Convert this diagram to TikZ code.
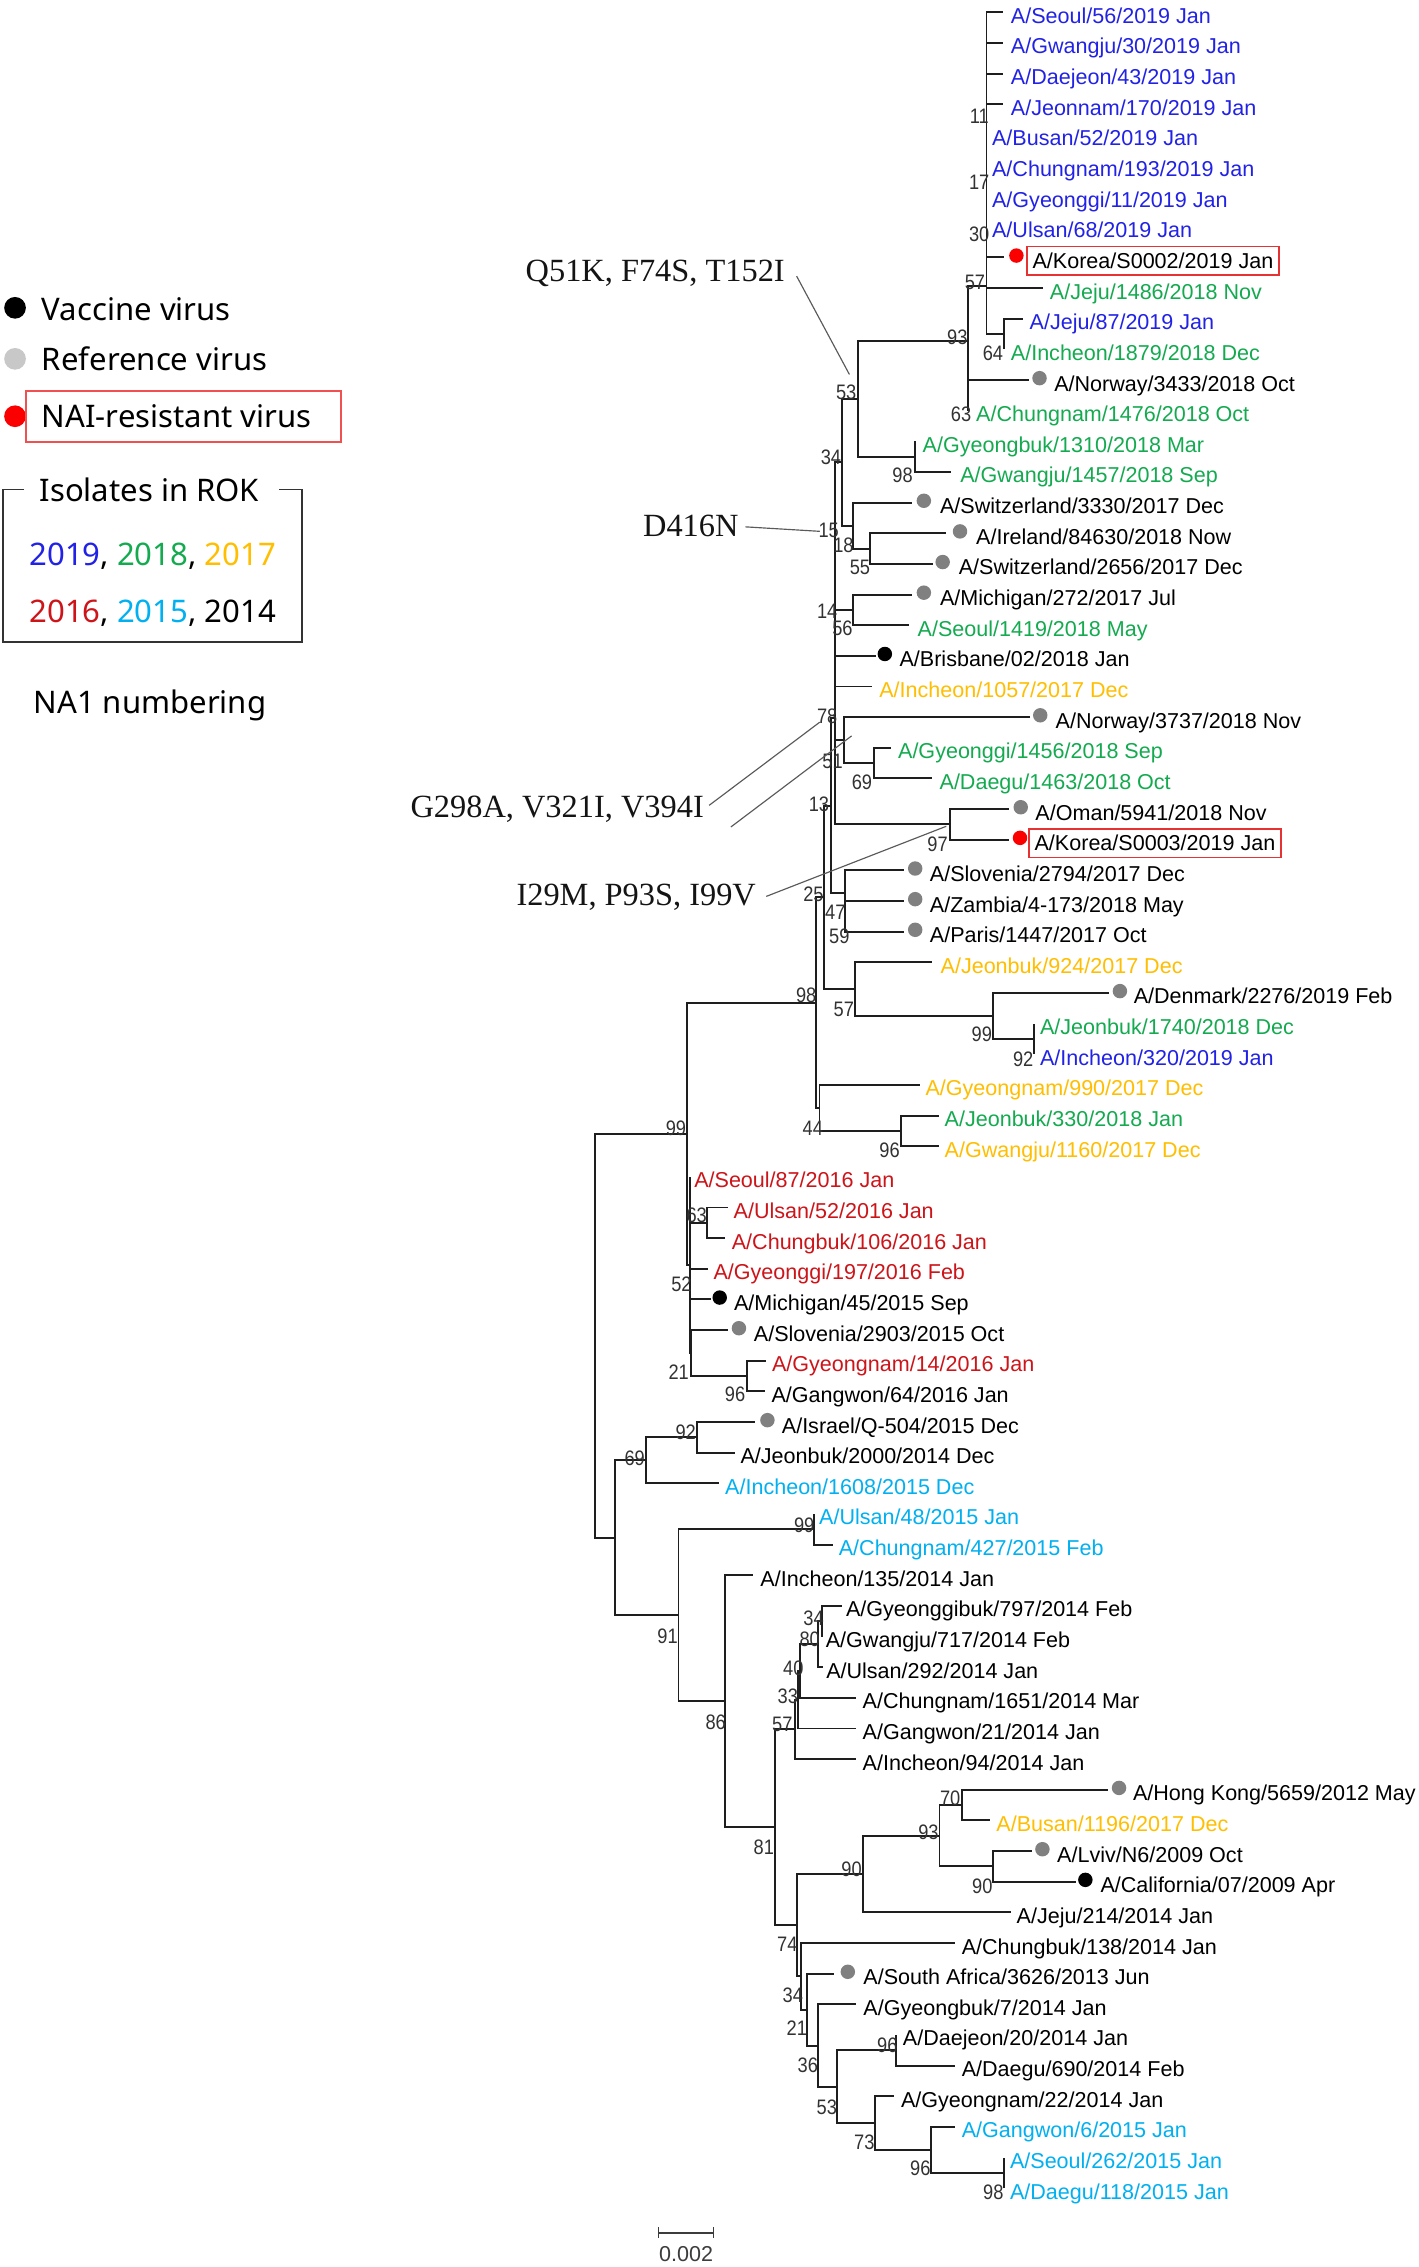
\documentclass[tikz,border=0pt]{standalone}
\usepackage{fontspec}
\setmainfont{Liberation Sans}
\newfontfamily\lsans{Liberation Sans}
\newfontfamily\bsans[FakeStretch=0.87]{Liberation Sans}
\newfontfamily\lserif{Liberation Serif}
\newfontfamily\nsans{Noto Sans}
\usetikzlibrary{fit}
\definecolor{c19}{RGB}{34,34,230}
\definecolor{c18}{RGB}{20,170,80}
\definecolor{c17}{RGB}{255,190,0}
\definecolor{c16}{RGB}{205,20,25}
\definecolor{c15}{RGB}{0,176,240}
\definecolor{treec}{RGB}{30,30,30}
\definecolor{bsc}{RGB}{50,50,50}
\definecolor{dotg}{RGB}{128,128,128}
\definecolor{dotr}{RGB}{250,0,0}
\definecolor{boxr}{RGB}{230,50,50}
\definecolor{lboxr}{RGB}{240,80,80}
\definecolor{lgray}{RGB}{200,200,200}
\definecolor{anntext}{RGB}{20,20,20}
\definecolor{annline}{RGB}{90,90,90}
\definecolor{sbc}{RGB}{60,60,60}
\newcommand\mkleaf[6]{%
  \coordinate (L#1) at (#3, {8.5+21.197*(#1-1)});
  \draw[tree] (#2) |- (L#1);
  \node[lf, text=#5] (t#1) at (#4, {16.1+21.197*(#1-1)}) {#6};
}
\newcommand\mkdot[3]{%
  \node[#2] (d#1) at (#3, {7.2+21.197*(#1-1)}) {};
}
\begin{document}
\begin{tikzpicture}[x=1pt,y=-1pt,
  tree/.style={draw=treec, line width=1.35pt},
  lf/.style={anchor=base west, inner sep=0pt, font=\lsans\fontsize{14.9}{17}\selectfont},
  bs/.style={inner sep=0pt, font=\bsans\fontsize{14.5}{16}\selectfont, text=bsc},
  gdot/.style={circle, fill=dotg, inner sep=0pt, minimum size=10pt},
  kdot/.style={circle, fill=black, inner sep=0pt, minimum size=10pt},
  rdot/.style={circle, fill=dotr, inner sep=0pt, minimum size=10pt},
  rbox/.style={draw=boxr, line width=1.1pt, inner xsep=3.8pt, inner ysep=4.2pt},
  ann/.style={anchor=base east, inner sep=0pt, font=\lserif\fontsize{22.4}{26}\selectfont, text=anntext},
  annl/.style={draw=annline, line width=0.8pt},
  lg/.style={anchor=base west, inner sep=0pt, font=\nsans\fontsize{21.5}{25}\selectfont},
]
\fill[white] (0,0) rectangle (981,1568);
\useasboundingbox (0,0) rectangle (981,1568);

% ---------- internal nodes ----------
\coordinate (n11) at (682.3, 82.7);
\coordinate (n17) at (682.3, 130.4);
\coordinate (n30) at (682.3, 164.85);
\coordinate (n64) at (694.4, 231.1);
\coordinate (n57) at (682.3, 198.0);
\coordinate (n63) at (669.7, 273.5);
\coordinate (n93) at (669.7, 235.75);
\coordinate (n98a) at (632.6, 315.9);
\coordinate (n53) at (593.7, 275.8);
\coordinate (n55) at (601.6, 379.45);
\coordinate (n18) at (589.9, 363.6);
\coordinate (n34) at (582.7, 319.7);
\coordinate (n56) at (589.9, 421.8);
\coordinate (n15) at (577.5, 370.75);
\coordinate (n14) at (577.5, 422.8);
\coordinate (n69) at (604.6, 527.8);
\coordinate (n51) at (583.6, 511.9);
\coordinate (n97) at (656.9, 570.2);
\coordinate (n78) at (577.5, 496.5);
\coordinate (n59) at (584.3, 633.8);
\coordinate (n47) at (584.3, 617.9);
\coordinate (n13) at (575, 557.2);
\coordinate (n92a) at (715.4, 718.6);
\coordinate (n99a) at (686.7, 702.7);
\coordinate (n57b) at (591.2, 684.15);
\coordinate (n25) at (570.2, 620.7);
\coordinate (n96a) at (622.9, 782.2);
\coordinate (n44) at (566.8, 766.3);
\coordinate (n98b) at (564.5, 693.5);
\coordinate (n63b) at (489.1, 845.8);
\coordinate (n96b) at (516.8, 951.7);
\coordinate (n21a) at (477.7, 935.8);
\coordinate (n52) at (477, 874.9);
\coordinate (n99b) at (475, 784.2);
\coordinate (n92b) at (481.9, 994.1);
\coordinate (n69b) at (446.6, 1010.0);
\coordinate (n99c) at (562.7, 1057.7);
\coordinate (n34b) at (568.7, 1121.3);
\coordinate (n80) at (565.7, 1137.2);
\coordinate (n40) at (553.6, 1155.75);
\coordinate (n33) at (552, 1175.6);
\coordinate (n57c) at (549.8, 1196.15);
\coordinate (n70) at (665.3, 1248.5);
\coordinate (n90a) at (687, 1290.9);
\coordinate (n93b) at (649.8, 1269.7);
\coordinate (n90b) at (596.6, 1296.2);
\coordinate (n98c) at (694.5, 1502.9);
\coordinate (n96c) at (644, 1487);
\coordinate (n73) at (605.4, 1468.45);
\coordinate (n96d) at (619.8, 1418.1);
\coordinate (n53b) at (578.8, 1443.3);
\coordinate (n36) at (565.8, 1414.8);
\coordinate (n21b) at (558.3, 1389.95);
\coordinate (n34c) at (553.9, 1366.9);
\coordinate (n74) at (551.5, 1331.55);
\coordinate (n81) at (535.9, 1263.85);
\coordinate (n86) at (501.4, 1176.7);
\coordinate (n91) at (469.3, 1117.2);
\coordinate (nC) at (425.1, 1063.6);
\coordinate (root) at (411.4, 923.9);

\foreach \p/\c in {n17/n11, n30/n17, n57/n30, n57/n64, n93/n57, n93/n63,
  n53/n93, n53/n98a, n34/n53, n34/n18, n18/n55, n15/n34, n15/n56, n14/n15,
  n78/n14, n78/n51, n78/n97, n51/n69, n13/n78, n13/n47, n47/n59, n25/n13,
  n25/n57b, n57b/n99a, n99a/n92a, n98b/n25, n98b/n44, n44/n96a, n99b/n98b,
  n99b/n52, n52/n63b, n52/n21a, n21a/n96b, root/n99b, root/nC, nC/n69b,
  n69b/n92b, nC/n91, n91/n99c, n91/n86, n86/n81, n81/n57c, n57c/n33, n33/n40,
  n40/n80, n80/n34b, n81/n74, n74/n90b, n90b/n93b, n93b/n70, n93b/n90a,
  n74/n34c, n34c/n21b, n21b/n36, n36/n53b, n53b/n96d, n53b/n73, n73/n96c,
  n96c/n98c}
  \draw[tree] (\p) |- (\c);

% ---------- leaves ----------
\mkleaf{1}{n11}{693.5}{699}{c19}{A/Seoul/56/2019 Jan}
\mkleaf{2}{n11}{693.5}{699}{c19}{A/Gwangju/30/2019 Jan}
\mkleaf{3}{n11}{693.5}{699}{c19}{A/Daejeon/43/2019 Jan}
\mkleaf{4}{n11}{693.5}{699}{c19}{A/Jeonnam/170/2019 Jan}
\mkleaf{5}{n11}{682.3}{686}{c19}{A/Busan/52/2019 Jan}
\mkleaf{6}{n11}{682.3}{686}{c19}{A/Chungnam/193/2019 Jan}
\mkleaf{7}{n11}{682.3}{686}{c19}{A/Gyeonggi/11/2019 Jan}
\mkleaf{8}{n11}{682.3}{686}{c19}{A/Ulsan/68/2019 Jan}
\mkleaf{9}{n17}{694.4}{714}{black}{A/Korea/S0002/2019 Jan}
\mkleaf{10}{n30}{721.4}{726}{c18}{A/Jeju/1486/2018 Nov}
\mkleaf{11}{n64}{707.7}{712}{c19}{A/Jeju/87/2019 Jan}
\mkleaf{12}{n64}{694.4}{699}{c18}{A/Incheon/1879/2018 Dec}
\mkleaf{13}{n63}{712}{729}{black}{A/Norway/3433/2018 Oct}
\mkleaf{14}{n63}{669.7}{675}{c18}{A/Chungnam/1476/2018 Oct}
\mkleaf{15}{n98a}{632.6}{638}{c18}{A/Gyeongbuk/1310/2018 Mar}
\mkleaf{16}{n98a}{658}{664}{c18}{A/Gwangju/1457/2018 Sep}
\mkleaf{17}{n18}{630.7}{650}{black}{A/Switzerland/3330/2017 Dec}
\mkleaf{18}{n55}{654.5}{675}{black}{A/Ireland/84630/2018 Now}
\mkleaf{19}{n55}{645}{663}{black}{A/Switzerland/2656/2017 Dec}
\mkleaf{20}{n56}{630.7}{650}{black}{A/Michigan/272/2017 Jul}
\mkleaf{21}{n56}{628.8}{634.5}{c18}{A/Seoul/1419/2018 May}
\mkleaf{22}{n14}{606}{622}{black}{A/Brisbane/02/2018 Jan}
\mkleaf{23}{n14}{603}{608}{c17}{A/Incheon/1057/2017 Dec}
\mkleaf{24}{n51}{712.7}{730}{black}{A/Norway/3737/2018 Nov}
\mkleaf{25}{n69}{616}{621}{c18}{A/Gyeonggi/1456/2018 Sep}
\mkleaf{26}{n69}{644.7}{649.7}{c18}{A/Daegu/1463/2018 Oct}
\mkleaf{27}{n97}{698}{716}{black}{A/Oman/5941/2018 Nov}
\mkleaf{28}{n97}{698}{715.4}{black}{A/Korea/S0003/2019 Jan}
\mkleaf{29}{n47}{625.6}{643}{black}{A/Slovenia/2794/2017 Dec}
\mkleaf{30}{n59}{625.6}{643}{black}{A/Zambia/4-173/2018 May}
\mkleaf{31}{n59}{625.6}{643}{black}{A/Paris/1447/2017 Oct}
\mkleaf{32}{n57b}{644.7}{650.4}{c17}{A/Jeonbuk/924/2017 Dec}
\mkleaf{33}{n99a}{767}{784}{black}{A/Denmark/2276/2019 Feb}
\mkleaf{34}{n92a}{715.4}{719.2}{c18}{A/Jeonbuk/1740/2018 Dec}
\mkleaf{35}{n92a}{715.4}{719.2}{c19}{A/Incheon/320/2019 Jan}
\mkleaf{36}{n44}{636}{640}{c17}{A/Gyeongnam/990/2017 Dec}
\mkleaf{37}{n96a}{649.4}{653.2}{c18}{A/Jeonbuk/330/2018 Jan}
\mkleaf{38}{n96a}{649.4}{653.2}{c17}{A/Gwangju/1160/2017 Dec}
\mkleaf{39}{n52}{477}{480}{c16}{A/Seoul/87/2016 Jan}
\mkleaf{40}{n63b}{503.5}{507.3}{c16}{A/Ulsan/52/2016 Jan}
\mkleaf{41}{n63b}{501.6}{506}{c16}{A/Chungbuk/106/2016 Jan}
\mkleaf{42}{n52}{489.5}{493.3}{c16}{A/Gyeonggi/197/2016 Feb}
\mkleaf{43}{n52}{492}{507.5}{black}{A/Michigan/45/2015 Sep}
\mkleaf{44}{n21a}{503.5}{521.3}{black}{A/Slovenia/2903/2015 Oct}
\mkleaf{45}{n96b}{530}{533.8}{c16}{A/Gyeongnam/14/2016 Jan}
\mkleaf{46}{n96b}{528.9}{533.5}{black}{A/Gangwon/64/2016 Jan}
\mkleaf{47}{n92b}{522.4}{540.6}{black}{A/Israel/Q-504/2015 Dec}
\mkleaf{48}{n92b}{508.2}{512}{black}{A/Jeonbuk/2000/2014 Dec}
\mkleaf{49}{n69b}{497.6}{501.4}{c15}{A/Incheon/1608/2015 Dec}
\mkleaf{50}{n99c}{562.7}{566.4}{c15}{A/Ulsan/48/2015 Jan}
\mkleaf{51}{n99c}{576.3}{580}{c15}{A/Chungnam/427/2015 Feb}
\mkleaf{52}{n86}{521}{525.8}{black}{A/Incheon/135/2014 Jan}
\mkleaf{53}{n34b}{582.7}{585}{black}{A/Gyeonggibuk/797/2014 Feb}
\mkleaf{54}{n34b}{568.7}{571}{black}{A/Gwangju/717/2014 Feb}
\mkleaf{55}{n80}{569}{571.3}{black}{A/Ulsan/292/2014 Jan}
\mkleaf{56}{n40}{592}{596.5}{black}{A/Chungnam/1651/2014 Mar}
\mkleaf{57}{n33}{592}{596.5}{black}{A/Gangwon/21/2014 Jan}
\mkleaf{58}{n57c}{592}{596.5}{black}{A/Incheon/94/2014 Jan}
\mkleaf{59}{n70}{766.5}{783.5}{black}{A/Hong Kong/5659/2012 May}
\mkleaf{60}{n70}{685}{689}{c17}{A/Busan/1196/2017 Dec}
\mkleaf{61}{n90a}{713.5}{731}{black}{A/Lviv/N6/2009 Oct}
\mkleaf{62}{n90a}{744}{761}{black}{A/California/07/2009 Apr}
\mkleaf{63}{n90b}{699}{703}{black}{A/Jeju/214/2014 Jan}
\mkleaf{64}{n34c}{660.4}{665}{black}{A/Chungbuk/138/2014 Jan}
\mkleaf{65}{n21b}{577}{597}{black}{A/South Africa/3626/2013 Jun}
\mkleaf{66}{n36}{592}{597}{black}{A/Gyeongbuk/7/2014 Jan}
\mkleaf{67}{n96d}{619.8}{624.3}{black}{A/Daejeon/20/2014 Jan}
\mkleaf{68}{n96d}{660.4}{665}{black}{A/Daegu/690/2014 Feb}
\mkleaf{69}{n73}{618.6}{623}{black}{A/Gyeongnam/22/2014 Jan}
\mkleaf{70}{n96c}{660.4}{665}{c15}{A/Gangwon/6/2015 Jan}
\mkleaf{71}{n98c}{694.5}{698.4}{c15}{A/Seoul/262/2015 Jan}
\mkleaf{72}{n98c}{694.5}{698.4}{c15}{A/Daegu/118/2015 Jan}

% ---------- markers ----------
\mkdot{9}{rdot}{703}
\mkdot{13}{gdot}{719}
\mkdot{17}{gdot}{639}
\mkdot{18}{gdot}{664}
\mkdot{19}{gdot}{652}
\mkdot{20}{gdot}{639}
\mkdot{22}{kdot}{612}
\mkdot{24}{gdot}{719.5}
\mkdot{27}{gdot}{706}
\mkdot{28}{rdot}{705.5}
\mkdot{29}{gdot}{633}
\mkdot{30}{gdot}{633}
\mkdot{31}{gdot}{633}
\mkdot{33}{gdot}{774.6}
\mkdot{43}{kdot}{497.8}
\mkdot{44}{gdot}{511.1}
\mkdot{47}{gdot}{530.8}
\mkdot{59}{gdot}{774}
\mkdot{61}{gdot}{721}
\mkdot{62}{kdot}{750.7}
\mkdot{65}{gdot}{586.4}

\node[rbox, fit=(t9)] (box9) {};
\node[rbox, fit=(t28)] (box28) {};

% ---------- bootstrap values ----------
\foreach \x/\y/\t [count=\k] in {677.3/80.2/11, 677.3/126.3/17, 677.3/162/30,
  674.3/195/57, 662.1/233/93, 686.8/244.5/64, 664.7/286.2/63, 585.3/271.3/53,
  574.7/316.1/34, 624.3/328.7/98, 573.2/366.7/15, 583.4/377/18, 594.8/392.6/55,
  572.1/423/14, 582.7/434.5/56, 572.1/495.3/78, 575.9/526.3/51, 596.2/541.3/69,
  566.4/556.3/13, 648.5/584/97, 562.6/618.5/25, 577.8/631.2/47, 580.5/647.4/59,
  557.6/688.4/98, 583.6/698.1/57, 679.1/715.4/99, 707.7/732.7/92, 562.2/780.7/44,
  615.3/795.7/96, 467.5/780.7/99, 481.9/840.7/63, 471.3/888.1/52, 469.4/949.3/21,
  508.4/964.3/96, 474.3/990.8/92, 439/1008.5/69, 556.2/1055.2/99, 461.7/1131.7/91,
  562.7/1119/34, 560/1134/80, 548.7/1153.6/40, 544.9/1173.2/33, 541.1/1192.8/57,
  495/1191.2/86, 657.2/1243.5/70, 528.3/1277.7/81, 642.2/1267.4/93, 589/1292.7/90,
  679.4/1304.6/90, 544.6/1344.5/74, 548.4/1380.2/34, 551.1/1402.7/21,
  613.7/1414.7/96, 558.7/1428.5/36, 571.9/1457.3/53, 597.8/1481.4/73,
  636.5/1499.9/96, 687/1516/98}
  \node[bs] (bs\k) at (\x,\y) {\t};

% ---------- mutation annotations ----------
\node[ann] (aQ) at (543,194.4) {Q51K, F74S, T152I};
\node[ann] (aD) at (511,371.4) {D416N};
\node[ann] (aG) at (487,565.4) {G298A, V321I, V394I};
\node[ann] (aI) at (523,626.4) {I29M, P93S, I99V};
\coordinate (qa) at (551,191);   \coordinate (qb) at (587.5,259);
\coordinate (da) at (515.5,364.4); \coordinate (db) at (567,367.5);
\coordinate (ga1) at (490.5,557); \coordinate (gb1) at (567,499.5);
\coordinate (ga2) at (505.5,572); \coordinate (gb2) at (589,509);
\coordinate (ia) at (530,620);   \coordinate (ib) at (654.5,571.5);
\draw[annl] (qa) -- (qb);
\draw[annl] (da) -- (db);
\draw[annl] (ga1) -- (gb1);
\draw[annl] (ga2) -- (gb2);
\draw[annl] (ia) -- (ib);

% ---------- scale bar ----------
\coordinate (s1) at (455.4,1544.3);
\coordinate (s2) at (493.5,1544.3);
\draw[draw=sbc, line width=1.4pt] (s1) -- (s2);
\draw[draw=sbc, line width=1.2pt] ([yshift=3.8pt]s1) -- ([yshift=-3.8pt]s1);
\draw[draw=sbc, line width=1.2pt] ([yshift=3.8pt]s2) -- ([yshift=-3.8pt]s2);
\node[inner sep=0pt, font=\lsans\fontsize{14.9}{17}\selectfont, text=sbc] (sbl) at (474.5,1559) {0.002};

% ---------- legend ----------
\node[circle, fill=black, inner sep=0pt, minimum size=15pt] (lgk) at (10.4,212.9) {};
\node[lg] (lgkt) at (28.8,221.4) {Vaccine virus};
\node[circle, fill=lgray, inner sep=0pt, minimum size=15pt] (lgg) at (10.4,248.2) {};
\node[lg] (lggt) at (28.8,256.3) {Reference virus};
\node[circle, fill=dotr, inner sep=0pt, minimum size=15pt] (lgr) at (10.4,287.9) {};
\draw[draw=lboxr, line width=1.5pt] (18,270.3) rectangle (235.7,305.6);
\node[lg] (lgrt) at (28.8,295.8) {NAI-resistant virus};
\draw[draw=black!80, line width=1.3pt] (16.6,338.6) -- (2.3,338.6) -- (2.3,443.9)
  -- (208.7,443.9) -- (208.7,338.6) -- (193.2,338.6);
\node[lg] (lgi) at (27.2,347) {Isolates in ROK};
\node[lg] (lgy1) at (20.3,390.9) {{\color{c19}2019}, {\color{c18}2018}, {\color{c17}2017}};
\node[lg] (lgy2) at (20.3,430.8) {{\color{c16}2016}, {\color{c15}2015}, 2014};
\node[lg] (lgna) at (23,493.5) {NA1 numbering};
\end{tikzpicture}
\end{document}
